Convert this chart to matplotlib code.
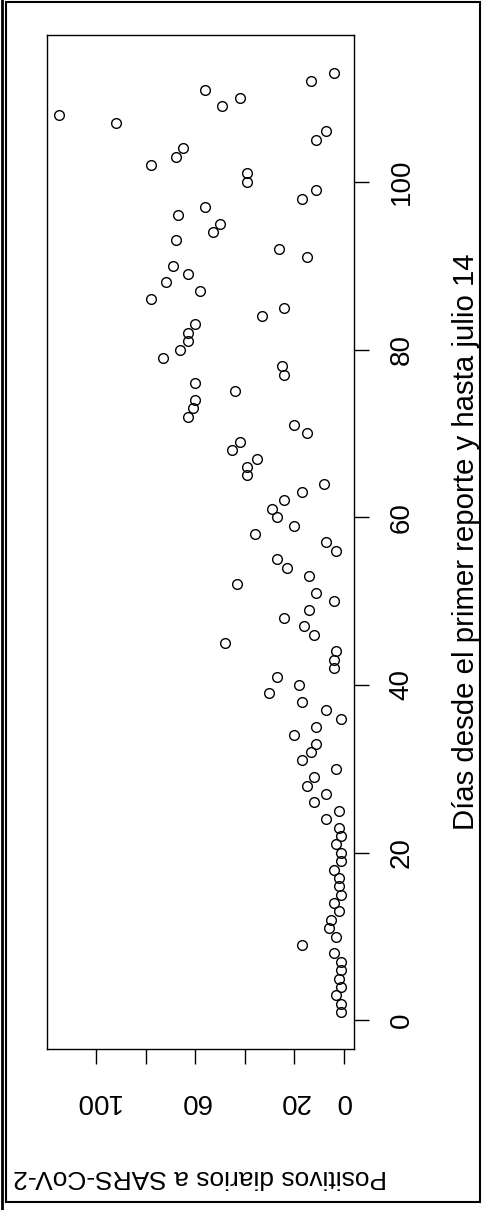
import matplotlib
matplotlib.use('Agg')
import matplotlib.pyplot as plt
from matplotlib.patches import Rectangle
from matplotlib.lines import Line2D

plt.rcParams['font.family'] = ['Liberation Sans', 'DejaVu Sans']

# daily positives, days 1..113
days = list(range(1, 114))
positivos = [1, 1, 3, 1, 2, 1, 1, 4, 17, 3,
             6, 5, 2, 4, 1, 2, 2, 4, 1, 1,
             3, 1, 2, 7, 2, 12, 7, 15, 12, 3,
             17, 13, 11, 20, 11, 1, 7, 17, 30, 18,
             27, 4, 4, 3, 48, 12, 16, 24, 14, 4,
             11, 43, 14, 23, 27, 3, 7, 36, 20, 27,
             29, 24, 17, 8, 39, 39, 35, 45, 42, 15,
             20, 63, 61, 60, 44, 60, 24, 25, 73, 66,
             63, 63, 60, 33, 24, 78, 58, 72, 63, 69,
             15, 26, 68, 53, 50, 67, 56, 17, 11, 39,
             39, 78, 68, 65, 11, 7, 92, 115, 49, 42,
             56, 13, 4]

x_ticks = [0, 20, 40, 60, 80, 100]
x_tick_labels = ['0', '20', '', '60', '', '100']
y_ticks = [0, 20, 40, 60, 80, 100]
y_tick_labels = ['0', '20', '40', '60', '80', '100']

W, H = 482, 1210
fig = plt.figure(figsize=(W / 100, H / 100), dpi=100)
ax = fig.add_axes([47 / W, (H - 1049) / H, (354 - 47) / W, (1049 - 35) / H])

ax.plot(positivos, days, 'o', mfc='none', mec='black', ms=7, mew=1.0)

ax.set_xlim(120, -4.2)
ax.set_ylim(-3.4, 117.5)

ax.set_xticks(x_ticks)
ax.set_xticklabels(x_tick_labels, rotation=180, fontsize=20)
ax.set_yticks(y_ticks)
ax.set_yticklabels(y_tick_labels, rotation=90, fontsize=20, va='center')
ax.yaxis.tick_right()
ax.tick_params(axis='both', length=11, width=1.0, color='black')
ax.tick_params(axis='x', pad=17)
ax.tick_params(axis='y', pad=14)

ax.set_xlabel('Positivos diarios a SARS-CoV-2', rotation=180, fontsize=19, labelpad=37)
ax.yaxis.set_label_position('right')
ax.set_ylabel('Días desde el primer reporte y hasta julio 14', rotation=90, fontsize=21.2, labelpad=27)

for s in ax.spines.values():
    s.set_linewidth(1.0)

# outer border
fig.patches.append(Rectangle((6 / W, 8 / H), 474 / W, 1200 / H, transform=fig.transFigure,
                             fill=False, ec='black', lw=1.5))
fig.lines.append(Line2D([1.5 / W, 1.5 / W], [0, 1], transform=fig.transFigure, color='black', lw=2))

fig.savefig('out.png', dpi=100)
